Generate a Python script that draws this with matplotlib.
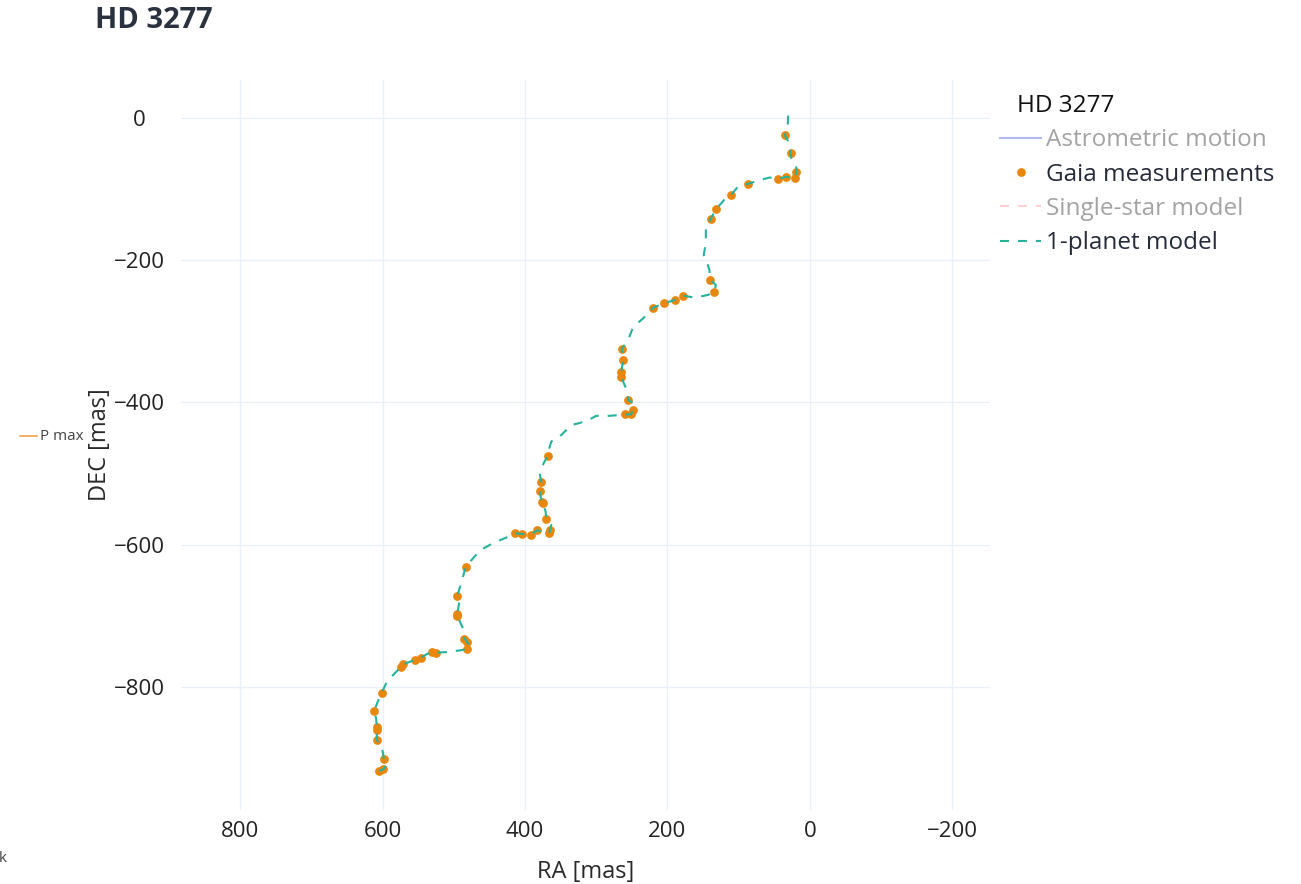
import matplotlib
matplotlib.use("Agg")
import matplotlib.pyplot as plt
from matplotlib.lines import Line2D

plt.rcParams['font.family'] = ['Open Sans', 'DejaVu Sans']

# Gaia measurements (RA, DEC in mas)
gaia_ra = [35, 27, 19, 21, 33, 44, 87, 110, 132, 139,
           140, 134, 178, 189, 205, 220, 264, 262, 265, 265,
           255, 249, 251, 259, 368, 377, 379, 376, 374, 370,
           365, 366, 383, 392, 404, 414, 483, 495, 495, 495,
           485, 481, 481, 525, 531, 546, 554, 571, 574, 601,
           612, 608, 608, 608, 598, 599, 605]
gaia_dec = [-25, -50, -77, -85, -83, -86, -93, -108, -129, -142,
            -228, -245, -250, -256, -261, -267, -325, -341, -358, -364,
            -397, -411, -417, -417, -475, -512, -524, -540, -542, -564,
            -580, -584, -580, -586, -585, -584, -631, -672, -697, -700,
            -732, -737, -747, -752, -751, -759, -762, -768, -772, -808,
            -834, -857, -861, -875, -902, -916, -918]

# 1-planet model track
model_ra = [30.5, 31, 35, 30.5, 27, 26, 19, 19, 21, 33, 44, 56, 68, 87, 101,
            110, 119, 132, 139, 146, 146, 149, 145, 141, 140, 132, 134, 143,
            161, 178, 189, 205, 220, 234, 248, 255, 264, 262, 265, 265, 257,
            255, 248, 249, 251, 259, 281, 300, 309, 323, 335, 349, 363, 366,
            368, 374, 379, 377, 379, 378, 376, 374, 371, 370, 363, 365, 366,
            383, 392, 404, 414, 426, 445, 463, 477, 483, 489, 495, 492, 495,
            495, 487, 485, 481, 477, 481, 494, 510, 525, 531, 538, 546, 554,
            571, 574, 583, 594, 601, 606, 612, 609, 608, 608, 608, 601, 598,
            593, 599, 605, 608]
model_dec = [3, -10, -25, -33, -50, -57, -68, -77, -85, -83, -86, -84, -87, -93,
             -97, -108, -114, -129, -142, -153, -176, -193, -202, -214, -228,
             -235, -245, -249, -253, -250, -256, -261, -267, -282, -294, -312,
             -325, -341, -358, -364, -383, -397, -401, -411, -417, -417, -419,
             -419, -424, -429, -432, -446, -455, -465, -475, -486, -502, -512,
             -524, -533, -540, -542, -554, -564, -572, -580, -584, -580, -586,
             -585, -584, -590, -598, -608, -624, -631, -652, -672, -680, -697,
             -700, -718, -732, -737, -743, -747, -749, -751, -752, -751, -754,
             -759, -762, -768, -772, -781, -793, -808, -819, -834, -844, -857,
             -861, -875, -884, -902, -909, -916, -918, -918]

x_ticks = [800, 600, 400, 200, 0, -200]
y_ticks = [0, -200, -400, -600, -800]

orange = '#e8870e'
teal = '#26b29c'
grid_col = '#ebf0f8'
W, H = 1301, 884

fig = plt.figure(figsize=(W / 100, H / 100), dpi=100)
ax = fig.add_axes([181 / W, 74 / H, 809 / W, 730 / H])

ax.plot(gaia_ra, gaia_dec, 'o', color=orange, markersize=6.3,
        markeredgewidth=0, zorder=3)
ax.plot(model_ra, model_dec, color=teal, linewidth=1.5,
        dashes=(4.3, 4.3), zorder=4)

ax.set_xlim(883, -253)
ax.set_ylim(-973, 53)
ax.set_xticks(x_ticks)
ax.set_yticks(y_ticks)
ax.grid(True, color=grid_col, linewidth=1)
ax.set_axisbelow(True)
for s in ax.spines.values():
    s.set_visible(False)
ax.tick_params(length=0, labelsize=16, labelcolor='#222222')
ax.tick_params(axis='x', pad=8)
ax.tick_params(axis='y', pad=30)
for lab in ax.get_yticklabels():
    lab.set_horizontalalignment('center')

ax.set_xlabel('RA [mas]', fontsize=17, color='#2a2a2a')
ax.set_ylabel('DEC [mas]', fontsize=17, color='#2a2a2a')
ax.xaxis.set_label_coords(0.5, -0.085)
ax.xaxis.label.set_verticalalignment('center')
ax.yaxis.set_label_coords(-0.1, 0.5)
ax.yaxis.label.set_verticalalignment('center')

# title
fig.text(95 / W, 1 - 20 / H, 'HD 3277', fontsize=21, fontweight='bold',
         color='#2a3240', ha='left', va='center')

# legend
handles = [
    Line2D([], [], color='#b3b8f7', linewidth=1.5),
    Line2D([], [], marker='o', linestyle='none', color=orange,
           markersize=6.3, markeredgewidth=0),
    Line2D([], [], color='#ffd0d4', linewidth=1.5, dashes=(4.3, 4.3)),
    Line2D([], [], color=teal, linewidth=1.5, dashes=(4.3, 4.3)),
]
labels = ['Astrometric motion', 'Gaia measurements',
          'Single-star model', '1-planet model']
fig.text(1017 / W, 1 - 106 / H, 'HD 3277', fontsize=17.5, color='#111111',
         ha='left', va='center')
leg = fig.legend(handles, labels, loc='upper left',
                 bbox_to_anchor=(1000 / W, 1 - 128.5 / H),
                 bbox_transform=fig.transFigure, frameon=False,
                 fontsize=17.5, handlelength=1.7, handletextpad=0.2,
                 labelspacing=0.42, borderpad=0, borderaxespad=0)
text_cols = ['#a3a3a3', '#262b3a', '#a3a3a3', '#262b3a']
for t, c in zip(leg.get_texts(), text_cols):
    t.set_color(c)

# leftover legend of another panel
fig.add_artist(Line2D([20 / W, 37 / W], [1 - 436 / H, 1 - 436 / H],
                      color='#f0a44a', linewidth=1.2))
fig.text(40 / W, 1 - 436 / H, 'P max', fontsize=11, color='#444444',
         ha='left', va='center')
fig.text(-1 / W, 1 - 858 / H, 'k', fontsize=11, color='#444444',
         ha='left', va='center')

fig.savefig('out.png', dpi=100)
